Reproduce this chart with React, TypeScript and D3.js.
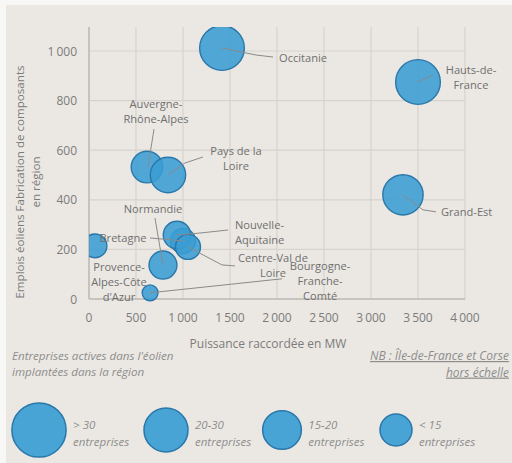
import React from "react";
import * as d3 from "d3";

// ---- data ----
const regions = [
  "Occitanie",
  "Hauts-de-France",
  "Grand-Est",
  "Auvergne-Rhône-Alpes",
  "Pays de la Loire",
  "Normandie",
  "Bretagne",
  "Nouvelle-Aquitaine",
  "Centre-Val de Loire",
  "Provence-Alpes-Côte d'Azur",
  "Bourgogne-Franche-Comté",
];
const puissanceMW = [1415, 3500, 3340, 617, 840, 787, 1000, 936, 1053, 64, 650];
const emplois = [1012, 875, 420, 532, 500, 137, 234, 258, 210, 214, 25];
const entreprises = [32, 32, 26, 16, 20, 12.5, 10, 12, 10, 9, 4];

const xTicks = [0, 500, 1000, 1500, 2000, 2500, 3000, 3500, 4000];
const yTicks = [0, 200, 400, 600, 800, 1000];

const legendLabels = ["> 30", "20-30", "15-20", "< 15"];
const legendSizes = [47, 31, 24, 16.4];

// ---- label layout (pixel offsets from bubble centre; dy = centre of first line) ----
type Lay = {
  lines: string[];
  dx: number;
  dy: number;
  anchor: "start" | "middle" | "end";
  leader?: [number, number][];
};
const layout: Record<string, Lay> = {
  Occitanie: { lines: ["Occitanie"], dx: 57, dy: 9, anchor: "start", leader: [[0, 0], [34, 7], [51, 9]] },
  "Hauts-de-France": { lines: ["Hauts-de-", "France"], dx: 53, dy: -12, anchor: "middle", leader: [[0, 0], [15, -7]] },
  "Grand-Est": { lines: ["Grand-Est"], dx: 38, dy: 17, anchor: "start", leader: [[0, 0], [20, 15], [33, 17]] },
  "Auvergne-Rhône-Alpes": { lines: ["Auvergne-", "Rhône-Alpes"], dx: 9, dy: -63, anchor: "middle", leader: [[7, -38], [1, 0]] },
  "Pays de la Loire": { lines: ["Pays de la", "Loire"], dx: 68, dy: -24, anchor: "middle", leader: [[0, 0], [17, -12], [35, -18]] },
  Normandie: { lines: ["Normandie"], dx: -10, dy: -57, anchor: "middle", leader: [[-8, -47], [0, 0]] },
  Bretagne: { lines: ["Bretagne"], dx: -60, dy: -3, anchor: "middle", leader: [[-33, -3], [0, 0]] },
  "Nouvelle-Aquitaine": { lines: ["Nouvelle-", "Aquitaine"], dx: 58, dy: -10, anchor: "start", leader: [[0, 0], [23, -2], [51, -5]] },
  "Centre-Val de Loire": { lines: ["Centre-Val de", "Loire"], dx: 85, dy: 11, anchor: "middle", leader: [[0, 0], [34, 18], [47, 19]] },
  "Provence-Alpes-Côte d'Azur": { lines: ["Provence-", "Alpes-Côte", "d'Azur"], dx: 24, dy: 22, anchor: "middle" },
  "Bourgogne-Franche-Comté": { lines: ["Bourgogne-", "Franche-", "Comté"], dx: 170, dy: -26, anchor: "middle", leader: [[0, 0], [132, -14]] },
};

const W = 512;
const H = 463;
const FONT = "'Open Sans', 'DejaVu Sans', sans-serif";
const TXT = "#7b7b7b";
const FILL = "#3a9dd3";
const STROKE = "#2a77aa";
const REF_LH = 13.7;
const LH = 15.2;
const LABEL_FS = 11.1;

export default function App() {
  const x = d3.scaleLinear().domain([0, 4000]).range([89, 465]);
  const y = d3.scaleLinear().domain([0, 1100]).range([299, 26.2]);
  const r = d3.scaleSqrt().domain([0, 40]).range([0, 25]);
  const fmt = (v: number) => d3.format(",")(v).replace(",", "\u2009");
  const line = d3.line();

  const pts = regions.map((name, i) => ({
    name,
    cx: x(puissanceMW[i]),
    cy: y(emplois[i]),
    rr: r(entreprises[i]),
  }));

  const legendX = [39, 166, 282, 396];

  return (
    <svg
      width={W}
      height={H}
      style={{ position: "absolute", left: 0, top: 0, fontFamily: FONT }}
    >
      <defs>
        <clipPath id="plotclip">
          <rect x={89} y={27} width={385} height={278} />
        </clipPath>
      </defs>
      <rect x={0} y={0} width={W} height={H} fill="#f7f7f5" />
      <rect x={6} y={5} width={W - 6} height={H - 5} fill="#ebe8e3" />

      {/* grid */}
      {xTicks.map((t) => (
        <line key={"gx" + t} x1={x(t)} x2={x(t)} y1={27} y2={299} stroke="#d6d3ce" strokeWidth={1.2} />
      ))}
      {yTicks.map((t) => (
        <line key={"gy" + t} x1={89} x2={465} y1={y(t)} y2={y(t)} stroke="#d6d3ce" strokeWidth={1.2} />
      ))}
      <line x1={89} x2={89} y1={27} y2={299} stroke="#bebbb6" strokeWidth={1.5} />
      <line x1={89} x2={465} y1={299} y2={299} stroke="#bebbb6" strokeWidth={1.5} />

      {/* tick labels */}
      {yTicks.map((t) => (
        <text key={"ty" + t} x={77} y={y(t)} textAnchor="end" dominantBaseline="central" fontSize={12} fill={TXT}>
          {fmt(t)}
        </text>
      ))}
      {xTicks.map((t) => (
        <text key={"tx" + t} x={x(t)} y={317} textAnchor="middle" dominantBaseline="central" fontSize={12} fill={TXT}>
          {fmt(t)}
        </text>
      ))}

      {/* axis titles */}
      <text x={268} y={343} textAnchor="middle" dominantBaseline="central" fontSize={12} fill={TXT}>
        Puissance raccordée en MW
      </text>
      <text transform="translate(24,182) rotate(-90)" textAnchor="middle" fontSize={11.6} fill={TXT}>
        <tspan x={0} dy={0}>Emplois éoliens Fabrication de composants</tspan>
        <tspan x={0} dy={16}>en région</tspan>
      </text>

      {/* bubbles */}
      <g clipPath="url(#plotclip)">
        {pts.map((p) => (
          <circle key={p.name} cx={p.cx} cy={p.cy} r={p.rr} fill={FILL} fillOpacity={0.88} stroke={STROKE} strokeWidth={1.4} />
        ))}
      </g>

      {/* leaders and labels */}
      {pts.map((p) => {
        const L = layout[p.name];
        const tx = p.cx + L.dx;
        const n = L.lines.length;
        const centre = p.cy + L.dy + ((n - 1) * REF_LH) / 2;
        const y0 = centre - ((n - 1) * LH) / 2;
        return (
          <g key={"l" + p.name}>
            {L.leader && (
              <path
                d={line(L.leader.map(([a, b]) => [p.cx + a, p.cy + b] as [number, number])) || ""}
                fill="none"
                stroke="#8a8a8a"
                strokeWidth={1}
              />
            )}
            {L.lines.map((s, k) => (
              <text
                key={k}
                x={tx}
                y={y0 + k * LH}
                textAnchor={L.anchor}
                dominantBaseline="central"
                fontSize={LABEL_FS}
                fill="#6f6f6f"
              >
                {s}
              </text>
            ))}
          </g>
        );
      })}

      {/* legend header */}
      <text x={12} y={360} fontSize={11.6} fontStyle="italic" fill="#8d8d8d">
        <tspan x={12} dy={0}>Entreprises actives dans l'éolien</tspan>
        <tspan x={12} dy={16}>implantées dans la région</tspan>
      </text>
      <text x={509} y={360} textAnchor="end" fontSize={12} fontStyle="italic" fill="#8d8d8d" textDecoration="underline">
        <tspan x={509} dy={0}>NB : Île-de-France et Corse</tspan>
        <tspan x={509} dy={16.6}>hors échelle</tspan>
      </text>

      {/* legend circles */}
      {legendLabels.map((lab, i) => {
        const cx = legendX[i];
        const rr = r(legendSizes[i]);
        const tx = cx + rr + 7;
        return (
          <g key={"lg" + i}>
            <circle cx={cx} cy={430} r={rr} fill={FILL} fillOpacity={0.92} stroke={STROKE} strokeWidth={1.5} />
            <text x={tx} y={429} fontSize={11.5} fontStyle="italic" fill="#8d8d8d">
              <tspan x={tx} dy={0}>{lab}</tspan>
              <tspan x={tx} dy={17}>entreprises</tspan>
            </text>
          </g>
        );
      })}
    </svg>
  );
}
